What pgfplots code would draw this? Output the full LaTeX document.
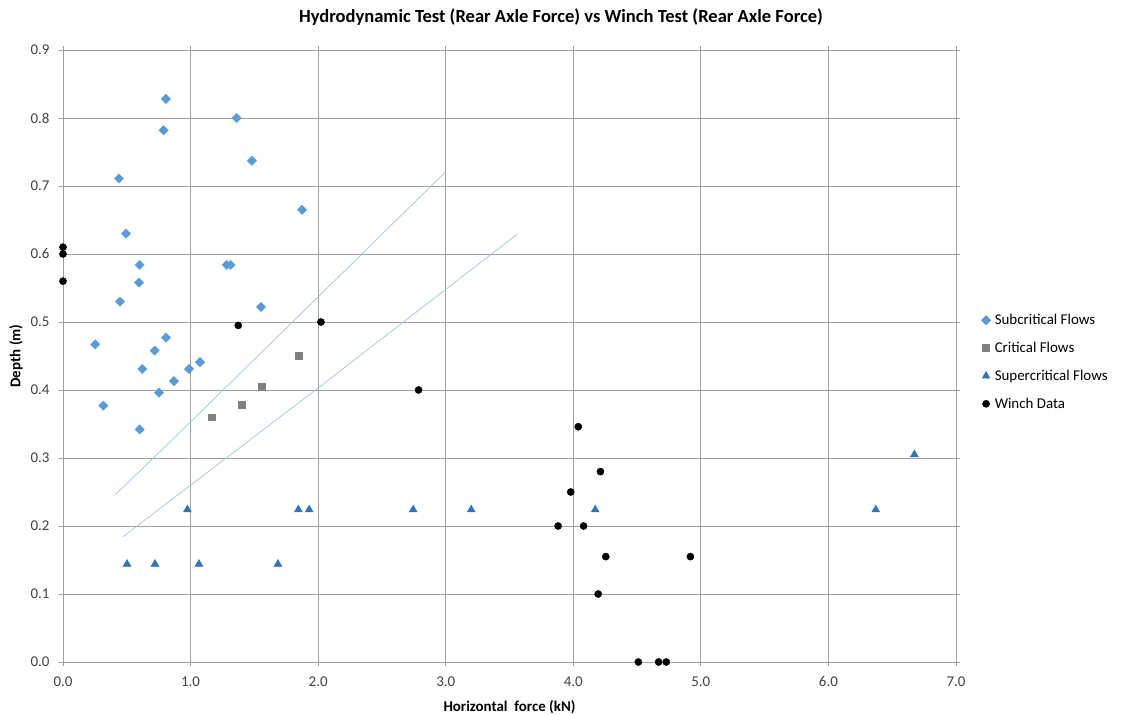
\documentclass[border=0pt]{standalone}
\usepackage{fontspec}
\setmainfont{Carlito}
\usepackage{pgfplots}
\pgfplotsset{compat=1.18}
\definecolor{subc}{HTML}{5B9BD5}
\definecolor{critc}{HTML}{808080}
\definecolor{superc}{HTML}{2E75B6}
\definecolor{trendc}{HTML}{9DC3E6}
\definecolor{gridc}{HTML}{A0A0A0}
\definecolor{tickc}{HTML}{404040}
\begin{document}
\begin{tikzpicture}
\begin{axis}[
  scale only axis, width=893bp, height=612bp,
  xmin=0, xmax=7, ymin=0, ymax=0.9,
  xtick={0,1,2,3,4,5,6,7},
  ytick={0,0.1,0.2,0.3,0.4,0.5,0.6,0.7,0.8,0.9},
  grid=major, grid style={color=gridc, line width=0.8bp},
  axis line style={color=gridc, line width=0.8bp},
  tick style={color=gridc, line width=0.8bp},
  tick align=outside, major tick length=4bp,
  xticklabel style={font=\fontsize{15}{17}\selectfont, text=tickc, yshift=-7bp},
  yticklabel style={font=\fontsize{15}{17}\selectfont, text=tickc, xshift=-6bp},
  /pgf/number format/.cd, fixed, fixed zerofill, precision=1, assume math mode=true,
  /pgfplots/.cd,
  xlabel={\textbf{Horizontal\ \ force (kN)}},
  ylabel={\textbf{Depth (m)}},
  xlabel style={font=\fontsize{15}{17}\selectfont, yshift=-7bp},
  ylabel style={font=\fontsize{15}{17}\selectfont, yshift=1bp},
  clip=false,
  legend style={draw=none, at={(1.026,0.575)}, anchor=north west,
    font=\fontsize{15}{17}\selectfont, row sep=12bp, inner sep=2bp,
    nodes={inner xsep=4bp}},
  legend cell align=left,
]
% trend lines
\addplot[trendc, line width=0.7bp, forget plot] coordinates {(0.41,0.246) (1,0.353) (2,0.537) (3.0,0.721)};
\addplot[trendc, line width=0.7bp, forget plot] coordinates {(0.468,0.184) (1,0.260) (2,0.403) (3,0.548) (3.56,0.629)};
\addplot[only marks, mark=square*, mark size=3.3bp, mark options={fill=subc, draw=subc, rotate=45}] coordinates {
(0.807,0.828) (1.361,0.800) (0.789,0.782) (1.481,0.737) (0.439,0.711)
(1.874,0.665) (0.494,0.630) (0.601,0.584) (1.283,0.584) (1.314,0.584)
(0.596,0.558) (0.447,0.530) (1.552,0.522) (0.253,0.467) (0.807,0.477)
(0.719,0.458) (1.074,0.441) (0.622,0.431) (0.988,0.431) (0.870,0.413)
(0.753,0.396) (0.316,0.377) (0.601,0.342)};
\addlegendentry{Subcritical Flows}
\addplot[only marks, mark=square*, mark size=3.4bp, mark options={fill=critc, draw=critc}] coordinates {
(1.845,0.450) (1.560,0.405) (1.398,0.378) (1.165,0.360)};
\addlegendentry{Critical Flows}
\addplot[only marks, mark=triangle*, mark size=4.6bp, mark options={fill=superc, draw=superc}] coordinates {
(0.502,0.144) (0.721,0.144) (1.066,0.144) (1.685,0.144)
(0.975,0.224) (1.845,0.224) (1.930,0.224) (2.745,0.224) (3.200,0.224)
(4.172,0.224) (6.371,0.224) (6.674,0.305)};
\addlegendentry{Supercritical Flows}
\addplot[only marks, mark=*, mark size=3.6bp, mark options={fill=black, draw=black}] coordinates {
(0,0.610) (0,0.600) (0,0.560) (1.374,0.495) (2.022,0.500) (2.787,0.400)
(4.039,0.346) (4.213,0.280) (3.980,0.250) (3.881,0.200) (4.081,0.200)
(4.255,0.155) (4.918,0.155) (4.195,0.100) (4.510,0) (4.669,0) (4.729,0)};
\addlegendentry{Winch Data}
\end{axis}
\node[font=\fontsize{18.6}{21}\selectfont\bfseries] at (498bp,645bp) {Hydrodynamic Test (Rear Axle Force) vs Winch Test (Rear Axle Force)};
\pgfresetboundingbox
\useasboundingbox (-63bp,-53bp) rectangle (1058bp,662bp);
\end{tikzpicture}
\end{document}
